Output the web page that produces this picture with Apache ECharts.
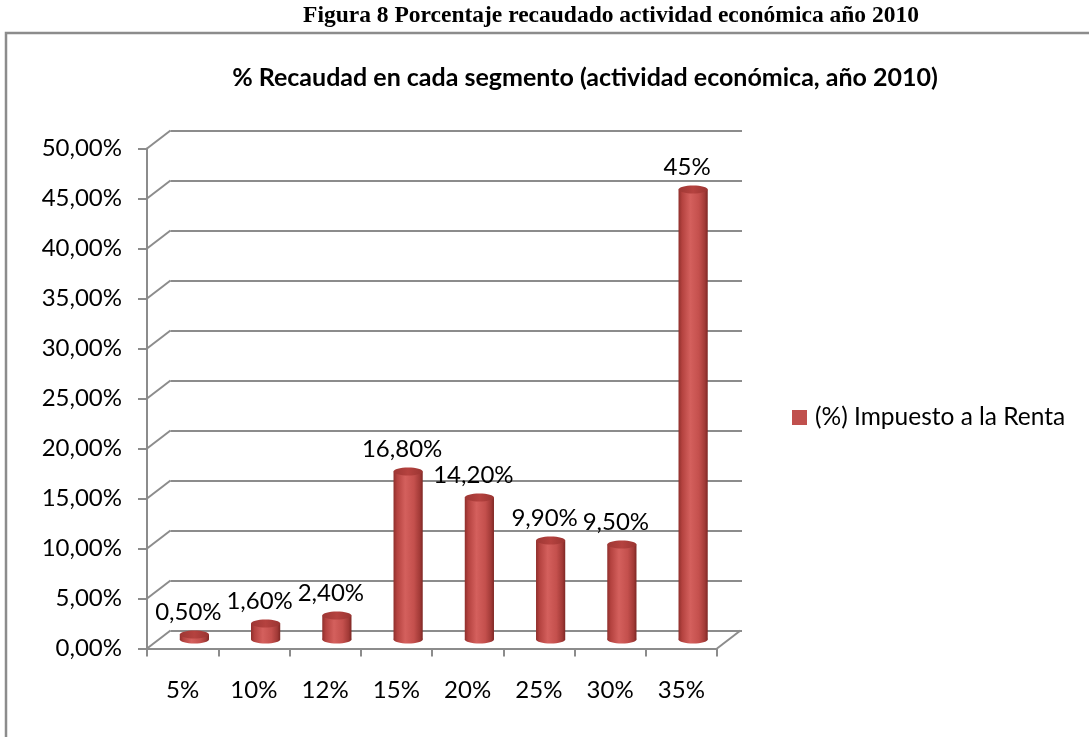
<!DOCTYPE html>
<html><head><meta charset="utf-8">
<script src="https://cdn.jsdelivr.net/npm/echarts@6/dist/echarts.min.js"></script>
<style>html,body{margin:0;padding:0;background:#fff}#c{width:1089px;height:737px}</style>
</head><body><div id="c"></div>
<script>
const categories = ['5%','10%','12%','15%','20%','25%','30%','35%'];
const values = [0.5, 1.6, 2.4, 16.8, 14.2, 9.9, 9.5, 45];
const valueLabels = ['0,50%','1,60%','2,40%','16,80%','14,20%','9,90%','9,50%','45%'];
const yTicks = [0,5,10,15,20,25,30,35,40,45,50];
const seriesName = '(%) Impuesto a la Renta';

const DX = 23.5, DY = -18; // depth of the 3D box
const LINE = '#8c8c8c';
const FONT = 'Lato';

const chart = echarts.init(document.getElementById('c'), null, {renderer:'canvas'});
chart.setOption({
  animation:false,
  backgroundColor:'#fff',
  graphic:[
    {type:'rect', shape:{x:6,y:33,width:1100,height:800}, style:{fill:'none',stroke:'#8c8c8c',lineWidth:2.5}, z:-1},
    {type:'text', x:611, y:16, style:{text:'Figura 8 Porcentaje recaudado actividad económica año 2010', font:'bold 23.5px "Liberation Serif"', fill:'#000', align:'center', verticalAlign:'middle'}}
  ],
  title:{text:'% Recaudad en cada segmento (actividad económica, año 2010)', left:580, top:60, textAlign:'center',
    textStyle:{fontFamily:FONT, fontWeight:'bold', fontSize:25, color:'#000'}},
  legend:{data:[{name:seriesName, icon:'rect', itemStyle:{color:'#c0504d'}}], left:792, top:405, padding:0, itemWidth:15, itemHeight:15,
    textStyle:{fontFamily:FONT, fontSize:24.5, color:'#000', padding:[0,0,0,3]}},
  grid:[
    {left:147, top:148.5, width:570, height:500},
    {left:170.5, top:130.5, width:571.5, height:500}
  ],
  xAxis:[
    {type:'category', gridIndex:0, data:categories, boundaryGap:true,
     axisLine:{lineStyle:{color:LINE,width:2}}, axisTick:{show:true,length:8,lineStyle:{color:LINE,width:2}},
     axisLabel:{margin:30, fontFamily:FONT, fontSize:24, color:'#000'}},
    {type:'category', gridIndex:1, data:categories, show:false}
  ],
  yAxis:[
    {type:'value', gridIndex:0, min:0, max:50, interval:5,
     axisLine:{show:true, lineStyle:{color:LINE,width:2}}, axisTick:{show:true,length:9,lineStyle:{color:LINE,width:2}},
     splitLine:{show:false},
     axisLabel:{margin:25, fontFamily:FONT, fontSize:24, color:'#000', formatter:v=>v.toFixed(2).replace('.',',')+'%'}},
    {type:'value', gridIndex:1, min:0, max:50, interval:5, axisLine:{show:false}, axisTick:{show:false}, axisLabel:{show:false},
     splitLine:{show:true, lineStyle:{color:LINE,width:2}}}
  ],
  series:[
    {type:'custom', name:'sidewall', xAxisIndex:0, yAxisIndex:0, silent:true, clip:false, z:1,
     data:yTicks.map(v=>[0,v]),
     renderItem:function(params, api){
       const cs = params.coordSys;
       const y = api.coord([0, api.value(1)])[1];
       const children = [{type:'line', shape:{x1:cs.x, y1:y, x2:cs.x+DX, y2:y+DY}, style:{stroke:LINE, lineWidth:2}}];
       if (api.value(1) === 0) {
         children.push({type:'line', shape:{x1:cs.x+cs.width, y1:y, x2:cs.x+cs.width+DX, y2:y+DY}, style:{stroke:LINE, lineWidth:2}});
       }
       return {type:'group', children:children};
     }},
    {type:'custom', name:seriesName, xAxisIndex:0, yAxisIndex:0, clip:false, z:5,
     itemStyle:{color:'#c0504d'},
     data:values.map((v,i)=>[i,v]),
     renderItem:function(params, api){
       const i = api.value(0), v = api.value(1);
       const base = api.coord([i, 0]);
       const top = api.coord([i, v]);
       const cx = base[0] + DX/2;
       const by = base[1] + DY/2;
       const ty = top[1] + DY/2;
       const w = api.size([1,0])[0]*0.41;
       const rx = w/2, ry = 4;
       const body = new echarts.graphic.LinearGradient(0,0,1,0,[
         {offset:0,color:'#8f2f2c'},{offset:0.12,color:'#b4423f'},{offset:0.4,color:'#d4605d'},
         {offset:0.7,color:'#c4504d'},{offset:0.9,color:'#a23a37'},{offset:1,color:'#7e2724'}]);
       const topFill = new echarts.graphic.LinearGradient(0,0,1,0,[
         {offset:0,color:'#9e3734'},{offset:0.5,color:'#b5423f'},{offset:1,color:'#9a3532'}]);
       return {type:'group', children:[
         {type:'ellipse', shape:{cx:cx, cy:by, rx:rx, ry:ry}, style:{fill:body}},
         {type:'rect', shape:{x:cx-rx, y:ty, width:w, height:Math.max(0,by-ty)}, style:{fill:body}},
         {type:'ellipse', shape:{cx:cx, cy:ty, rx:rx, ry:ry}, style:{fill:topFill}},
         {type:'text', x:cx-6, y:ty-22, style:{text:valueLabels[i], font:'24px '+FONT, fill:'#000', align:'center', verticalAlign:'middle'}}
       ]};
     }}
  ]
});
</script></body></html>
